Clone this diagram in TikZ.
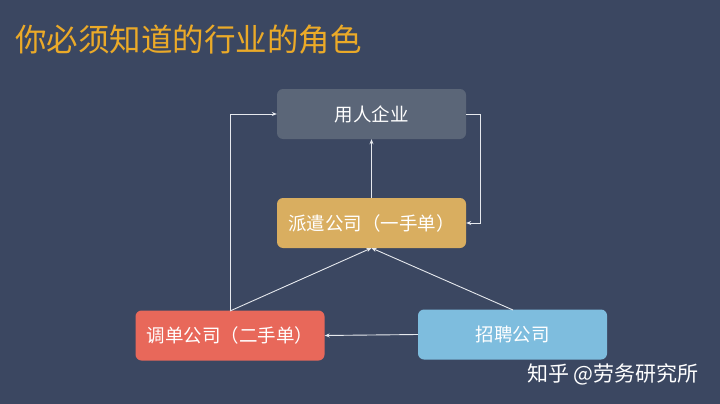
\documentclass[tikz,border=0pt]{standalone}
\usepackage{fontspec}
\setmainfont{Noto Sans CJK SC}
\usetikzlibrary{arrows.meta}
\definecolor{bg}{HTML}{3B4761}
\definecolor{boxgray}{HTML}{5B6678}
\definecolor{boxorange}{HTML}{D9AE60}
\definecolor{boxred}{HTML}{E8685A}
\definecolor{boxblue}{HTML}{7EBDDE}
\definecolor{titlecol}{HTML}{EBAA28}
\definecolor{linecol}{HTML}{E6E9EE}
\begin{document}
\begin{tikzpicture}[x=1pt,y=-1pt,
  rolebox/.style={rounded corners=6pt, minimum width=189pt, minimum height=50pt, inner sep=0pt,
    text=white, font=\fontsize{18.5}{22}\selectfont, anchor=center},
  conn/.style={draw=linecol, line width=0.9pt, -{Stealth[length=5pt,width=4pt]}}]
\fill[bg] (0,0) rectangle (720,404);
\useasboundingbox (0,0) rectangle (720,404);
\node[anchor=west, text=titlecol, font=\fontsize{31.5}{34}\selectfont, inner sep=0pt] (title) at (15,40) {你必须知道的行业的角色};
\node[rolebox, fill=boxgray] (user) at (371.5,114) {用人企业};
\node[rolebox, fill=boxorange] (disp) at (371.5,223) {派遣公司（一手单）};
\node[rolebox, fill=boxred] (sub) at (230,335.5) {调单公司（二手单）};
\node[rolebox, fill=boxblue] (recr) at (512.5,334.5) {招聘公司};
\node[anchor=west, text=white, font=\fontsize{21}{24}\selectfont, inner sep=0pt] (mark) at (527,374) {知乎 @劳务研究所};
\coordinate (subtop) at (230,311);
\coordinate (rtop) at (513,310);
\coordinate (dbot) at (371.5,248);
\draw[conn] (subtop) |- (user.west);
\draw[conn] (user.east) -- (480,114) |- (disp.east);
\draw[conn] (disp.north) -- (user.south);
\draw[conn] (subtop) -- (dbot);
\draw[conn] (rtop) -- (dbot);
\draw[conn] (recr.west) -- (sub.east);
\end{tikzpicture}
\end{document}
